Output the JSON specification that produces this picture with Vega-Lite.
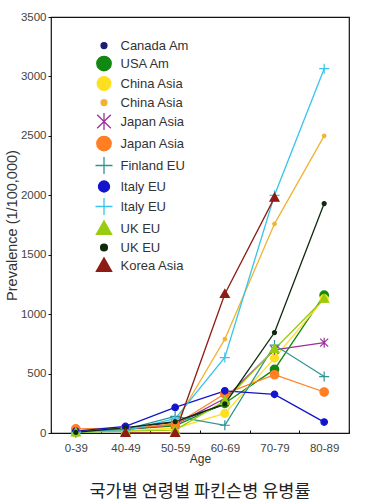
{
  "$schema": "https://vega.github.io/schema/vega-lite/v6.json",
  "width": 298,
  "height": 416,
  "autosize": {"type": "none"},
  "padding": {"left": 51, "top": 17, "right": 41, "bottom": 71},
  "config": {
    "font": "Liberation Sans",
    "view": {"stroke": "#111", "strokeWidth": 1.2},
    "axis": {"grid": false, "labelFont": "Liberation Sans", "titleFont": "Liberation Sans", "labelColor": "#444", "titleColor": "#333", "domainColor": "#111", "tickColor": "#111", "labelFontSize": 11.5, "titleFontSize": 12, "titleFontWeight": "normal"}
  },
  "title": {"text": "국가별 연령별 파킨슨병 유병률", "orient": "bottom", "font": "Noto Sans CJK KR", "fontSize": 17.5, "fontWeight": "normal", "color": "#222", "offset": 18, "anchor": "middle"},
  "data": {"values": [
    {"series": "Canada Am", "age": "0-39", "value": 5},
    {"series": "Canada Am", "age": "40-49", "value": 40},
    {"series": "Canada Am", "age": "50-59", "value": 90},
    {"series": "Canada Am", "age": "60-69", "value": 240},
    {"series": "USA Am", "age": "0-39", "value": 5},
    {"series": "USA Am", "age": "40-49", "value": 30},
    {"series": "USA Am", "age": "50-59", "value": 60},
    {"series": "USA Am", "age": "60-69", "value": 250},
    {"series": "USA Am", "age": "70-79", "value": 535},
    {"series": "USA Am", "age": "80-89", "value": 1160},
    {"series": "China Asia", "age": "0-39", "value": 5},
    {"series": "China Asia", "age": "40-49", "value": 20},
    {"series": "China Asia", "age": "50-59", "value": 40},
    {"series": "China Asia", "age": "60-69", "value": 165},
    {"series": "China Asia", "age": "70-79", "value": 630},
    {"series": "China Asia", "age": "80-89", "value": 1130},
    {"series": "China Asia#2", "age": "0-39", "value": 10},
    {"series": "China Asia#2", "age": "40-49", "value": 30},
    {"series": "China Asia#2", "age": "50-59", "value": 80},
    {"series": "China Asia#2", "age": "60-69", "value": 790},
    {"series": "China Asia#2", "age": "70-79", "value": 1760},
    {"series": "China Asia#2", "age": "80-89", "value": 2500},
    {"series": "Japan Asia", "age": "0-39", "value": 10},
    {"series": "Japan Asia", "age": "40-49", "value": 30},
    {"series": "Japan Asia", "age": "50-59", "value": 70},
    {"series": "Japan Asia", "age": "60-69", "value": 290},
    {"series": "Japan Asia", "age": "70-79", "value": 700},
    {"series": "Japan Asia", "age": "80-89", "value": 760},
    {"series": "Japan Asia#2", "age": "0-39", "value": 35},
    {"series": "Japan Asia#2", "age": "40-49", "value": 40},
    {"series": "Japan Asia#2", "age": "50-59", "value": 70},
    {"series": "Japan Asia#2", "age": "60-69", "value": 330},
    {"series": "Japan Asia#2", "age": "70-79", "value": 490},
    {"series": "Japan Asia#2", "age": "80-89", "value": 345},
    {"series": "Finland EU", "age": "0-39", "value": 5},
    {"series": "Finland EU", "age": "40-49", "value": 30},
    {"series": "Finland EU", "age": "50-59", "value": 140},
    {"series": "Finland EU", "age": "60-69", "value": 65},
    {"series": "Finland EU", "age": "70-79", "value": 740},
    {"series": "Finland EU", "age": "80-89", "value": 475},
    {"series": "Italy EU", "age": "0-39", "value": 15},
    {"series": "Italy EU", "age": "40-49", "value": 55},
    {"series": "Italy EU", "age": "50-59", "value": 215},
    {"series": "Italy EU", "age": "60-69", "value": 355},
    {"series": "Italy EU", "age": "70-79", "value": 325},
    {"series": "Italy EU", "age": "80-89", "value": 92},
    {"series": "Italy EU#2", "age": "0-39", "value": 5},
    {"series": "Italy EU#2", "age": "40-49", "value": 20},
    {"series": "Italy EU#2", "age": "50-59", "value": 120},
    {"series": "Italy EU#2", "age": "60-69", "value": 635},
    {"series": "Italy EU#2", "age": "70-79", "value": 2000},
    {"series": "Italy EU#2", "age": "80-89", "value": 3065},
    {"series": "UK EU", "age": "0-39", "value": 5},
    {"series": "UK EU", "age": "40-49", "value": 15},
    {"series": "UK EU", "age": "50-59", "value": 25},
    {"series": "UK EU", "age": "60-69", "value": 270},
    {"series": "UK EU", "age": "70-79", "value": 705},
    {"series": "UK EU", "age": "80-89", "value": 1130},
    {"series": "UK EU#2", "age": "0-39", "value": 5},
    {"series": "UK EU#2", "age": "40-49", "value": 45},
    {"series": "UK EU#2", "age": "50-59", "value": 95},
    {"series": "UK EU#2", "age": "60-69", "value": 245},
    {"series": "UK EU#2", "age": "70-79", "value": 845},
    {"series": "UK EU#2", "age": "80-89", "value": 1930},
    {"series": "Korea Asia", "age": "40-49", "value": 0},
    {"series": "Korea Asia", "age": "50-59", "value": 0},
    {"series": "Korea Asia", "age": "60-69", "value": 1170},
    {"series": "Korea Asia", "age": "70-79", "value": 1980}
  ]},
  "encoding": {
    "x": {"field": "age", "type": "nominal", "sort": ["0-39", "40-49", "50-59", "60-69", "70-79", "80-89"],
      "scale": {"type": "band", "paddingInner": 0, "paddingOuter": 0},
      "axis": {"title": "Age", "labelAngle": 0, "tickBand": "extent", "tickSize": -3, "labelPadding": 12, "titlePadding": 0, "domain": false}},
    "y": {"field": "value", "type": "quantitative",
      "scale": {"domain": [0, 3500], "nice": false},
      "axis": {"title": "Prevalence (1/100,000)", "titleFontSize": 14.5, "format": "d", "values": [0, 500, 1000, 1500, 2000, 2500, 3000, 3500], "tickSize": 3, "labelPadding": 2, "titlePadding": 1, "domain": false}}
  },
  "layer": [
    {
      "mark": {"type": "line", "strokeWidth": 1.3},
      "encoding": {
        "detail": {"field": "series"},
        "stroke": {"field": "series", "type": "nominal",
          "scale": {"domain": ["Canada Am", "USA Am", "China Asia", "China Asia#2", "Japan Asia", "Japan Asia#2", "Finland EU", "Italy EU", "Italy EU#2", "UK EU", "UK EU#2", "Korea Asia"],
            "range": ["#1c1c70", "#118811", "#ffe020", "#f0b434", "#993399", "#ff7f22", "#2e9494", "#1414cc", "#38c4ec", "#99cc11", "#0e2a0e", "#8e1c14"]}}
      }
    },
    {
      "mark": {"type": "point", "filled": true, "size": 100, "opacity": 1, "strokeWidth": 1.2},
      "encoding": {
        "color": {"field": "series", "type": "nominal",
          "scale": {"domain": ["Canada Am", "USA Am", "China Asia", "China Asia#2", "Japan Asia", "Japan Asia#2", "Finland EU", "Italy EU", "Italy EU#2", "UK EU", "UK EU#2", "Korea Asia"],
            "range": ["#1c1c70", "#118811", "#ffe020", "#f0b434", "#993399", "#ff7f22", "#2e9494", "#1414cc", "#38c4ec", "#99cc11", "#0e2a0e", "#8e1c14"]},
          "legend": {"title": null, "orient": "none", "legendX": 43.5, "legendY": 19, "labelFont": "Liberation Sans", "labelFontSize": 13, "labelColor": "#333", "labelOffset": 7, "rowPadding": 0, "symbolSize": 289, "symbolStrokeWidth": 1.3,
            "labelExpr": "split(datum.label, '#')[0]",
            "encode": {"symbols": {
              "shape": {"value": {"expr": "['M-1.15,0H1.15M-0.17,0A0.17,0.17 0 1,0 0.17,0A0.17,0.17 0 1,0 -0.17,0Z', 'M-1.15,0H1.15M-0.42,0A0.42,0.42 0 1,0 0.42,0A0.42,0.42 0 1,0 -0.42,0Z', 'M-1.15,0H1.15M-0.38,0A0.38,0.38 0 1,0 0.38,0A0.38,0.38 0 1,0 -0.38,0Z', 'M-1.15,0H1.15M-0.17,0A0.17,0.17 0 1,0 0.17,0A0.17,0.17 0 1,0 -0.17,0Z', 'M-1.15,0H1.15M-0.35,-0.35L0.35,0.35M-0.35,0.35L0.35,-0.35M0,-0.45V0.45', 'M-1.15,0H1.15M-0.42,0A0.42,0.42 0 1,0 0.42,0A0.42,0.42 0 1,0 -0.42,0Z', 'M-1.15,0H1.15M0,-0.4V0.4', 'M-1.15,0H1.15M-0.33,0A0.33,0.33 0 1,0 0.33,0A0.33,0.33 0 1,0 -0.33,0Z', 'M-1.15,0H1.15M0,-0.15V0.15', 'M-1.15,0H1.15M0,-0.45L0.45,0.35L-0.45,0.35Z', 'M-1.15,0H1.15M-0.17,0A0.17,0.17 0 1,0 0.17,0A0.17,0.17 0 1,0 -0.17,0Z', 'M-1.15,0H1.15M0,-0.45L0.45,0.35L-0.45,0.35Z'][indexof(['Canada Am', 'USA Am', 'China Asia', 'China Asia#2', 'Japan Asia', 'Japan Asia#2', 'Finland EU', 'Italy EU', 'Italy EU#2', 'UK EU', 'UK EU#2', 'Korea Asia'], datum.value)]"}},
              "fill": {"value": {"expr": "scale('color', datum.value)"}},
              "stroke": {"value": {"expr": "scale('color', datum.value)"}}
            }}}},
        "stroke": {"field": "series", "type": "nominal",
          "scale": {"domain": ["Canada Am", "USA Am", "China Asia", "China Asia#2", "Japan Asia", "Japan Asia#2", "Finland EU", "Italy EU", "Italy EU#2", "UK EU", "UK EU#2", "Korea Asia"],
            "range": ["#1c1c70", "#118811", "#ffe020", "#f0b434", "#993399", "#ff7f22", "#2e9494", "#1414cc", "#38c4ec", "#99cc11", "#0e2a0e", "#8e1c14"]}},
        "shape": {"field": "series", "type": "nominal",
          "scale": {"domain": ["Canada Am", "USA Am", "China Asia", "China Asia#2", "Japan Asia", "Japan Asia#2", "Finland EU", "Italy EU", "Italy EU#2", "UK EU", "UK EU#2", "Korea Asia"],
            "range": [
              "M-0.35,0A0.35,0.35 0 1,0 0.35,0A0.35,0.35 0 1,0 -0.35,0Z",
              "M-0.85,0A0.85,0.85 0 1,0 0.85,0A0.85,0.85 0 1,0 -0.85,0Z",
              "M-0.8,0A0.8,0.8 0 1,0 0.8,0A0.8,0.8 0 1,0 -0.8,0Z",
              "M-0.35,0A0.35,0.35 0 1,0 0.35,0A0.35,0.35 0 1,0 -0.35,0Z",
              "M-0.8,-0.8L0.8,0.8M-0.8,0.8L0.8,-0.8M0,-1V1",
              "M-0.85,0A0.85,0.85 0 1,0 0.85,0A0.85,0.85 0 1,0 -0.85,0Z",
              "M0,-1V1M-1,0H1",
              "M-0.65,0A0.65,0.65 0 1,0 0.65,0A0.65,0.65 0 1,0 -0.65,0Z",
              "M0,-1V1M-1,0H1",
              "M0,-0.9L0.9,0.7L-0.9,0.7Z",
              "M-0.4,0A0.4,0.4 0 1,0 0.4,0A0.4,0.4 0 1,0 -0.4,0Z",
              "M0,-0.9L0.9,0.7L-0.9,0.7Z"
            ]}}
      }
    }
  ]
}
